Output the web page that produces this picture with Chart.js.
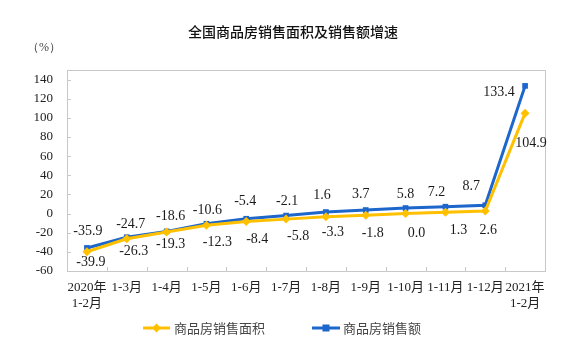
<!DOCTYPE html>
<html>
<head>
<meta charset="utf-8">
<script src="https://cdn.jsdelivr.net/npm/chart.js@4/dist/chart.umd.min.js"></script>
<style>
  html, body { margin: 0; padding: 0; background: #fff; }
  #wrap { width: 580px; height: 350px; }
</style>
</head>
<body>
<div id="wrap"><canvas id="grafico" width="580" height="350"></canvas></div>
<script>
// datos
const periodos = [["2020年", "1-2月"], "1-3月", "1-4月", "1-5月", "1-6月", "1-7月",
  "1-8月", "1-9月", "1-10月", "1-11月", "1-12月", ["2021年", "1-2月"]];
const areaVentas = [-39.9, -26.3, -19.3, -12.3, -8.4, -5.8, -3.3, -1.8, 0.0, 1.3, 2.6, 104.9];
const importeVentas = [-35.9, -24.7, -18.6, -10.6, -5.4, -2.1, 1.6, 3.7, 5.8, 7.2, 8.7, 133.4];
const ticksY = [-60, -40, -20, 0, 20, 40, 60, 80, 100, 120, 140];
const titulo = "全国商品房销售面积及销售额增速";
const nombreArea = "商品房销售面积";
const nombreImporte = "商品房销售额";

const AZUL = "#1c66cc";
const AMARILLO = "#ffc000";
const SERIF = "'Liberation Serif', 'Times New Roman', serif";
const CJK = "'Noto Sans CJK SC', sans-serif";

// desplazamiento de las etiquetas respecto a cada punto [dx, dy]
const despAzul = [[1, -17], [4, -13], [4, -15], [1, -13], [-1, -17], [1, -14],
  [-4, -17], [-5, -16], [0, -14], [-9, -14], [-14, -19], [-26, 6]];
const despAmar = [[4, 11], [7, 13], [4, 12], [11, 17], [11, 18], [12, 17],
  [7, 16], [7, 18], [11, 20], [13, 18], [3, 19], [6, 30]];

// titulo, marco, marcas internas, etiquetas y leyenda
const decoracion = {
  id: "decoracion",
  afterDraw(chart) {
    const ctx = chart.ctx;
    const a = chart.chartArea;
    const x = chart.scales.x;
    const y = chart.scales.y;
    ctx.save();

    ctx.fillStyle = "#111";
    ctx.font = "500 14px " + CJK;
    ctx.textAlign = "center";
    ctx.textBaseline = "middle";
    ctx.fillText(titulo, 293, 32);

    ctx.font = "12px " + SERIF;
    ctx.fillStyle = "#444";
    ctx.fillText("（%）", 44, 48);

    ctx.strokeStyle = "#c8c8c8";
    ctx.lineWidth = 1;
    ctx.strokeRect(Math.round(a.left) + 0.5, Math.round(a.top) + 0.5,
      Math.round(a.right - a.left), Math.round(a.bottom - a.top));

    ctx.beginPath();
    ticksY.forEach(v => {
      const py = Math.round(y.getPixelForValue(v)) + 0.5;
      ctx.moveTo(a.left, py);
      ctx.lineTo(a.left + 4, py);
    });
    for (let i = 1; i < periodos.length; i++) {
      const px = Math.round((x.getPixelForValue(i - 1) + x.getPixelForValue(i)) / 2) + 0.5;
      ctx.moveTo(px, a.bottom);
      ctx.lineTo(px, a.bottom - 4);
    }
    ctx.stroke();

    // etiquetas de valores
    ctx.font = "14px " + SERIF;
    ctx.fillStyle = "#1a1a1a";
    ctx.textAlign = "center";
    const ptsAzul = chart.getDatasetMeta(1).data;
    const ptsAmar = chart.getDatasetMeta(0).data;
    importeVentas.forEach((v, i) => {
      const p = ptsAzul[i];
      ctx.fillText(v.toFixed(1), p.x + despAzul[i][0], p.y + despAzul[i][1]);
    });
    areaVentas.forEach((v, i) => {
      const p = ptsAmar[i];
      ctx.fillText(v.toFixed(1), p.x + despAmar[i][0], p.y + despAmar[i][1]);
    });

    // leyenda
    const ly = 328;
    ctx.lineWidth = 3;
    ctx.strokeStyle = AMARILLO;
    ctx.beginPath(); ctx.moveTo(143, ly); ctx.lineTo(170, ly); ctx.stroke();
    ctx.fillStyle = AMARILLO;
    ctx.beginPath();
    ctx.moveTo(156.5, ly - 4.5); ctx.lineTo(161, ly); ctx.lineTo(156.5, ly + 4.5); ctx.lineTo(152, ly);
    ctx.closePath(); ctx.fill();
    ctx.strokeStyle = AZUL;
    ctx.beginPath(); ctx.moveTo(312, ly); ctx.lineTo(340, ly); ctx.stroke();
    ctx.fillStyle = AZUL;
    ctx.fillRect(322.5, ly - 3.5, 7, 7);

    ctx.fillStyle = "#444";
    ctx.font = "13px " + CJK;
    ctx.textAlign = "left";
    ctx.fillText(nombreArea, 174, ly);
    ctx.fillText(nombreImporte, 343, ly);
    ctx.restore();
  }
};

new Chart(document.getElementById("grafico").getContext("2d"), {
  type: "line",
  data: {
    labels: periodos,
    datasets: [
      {
        label: nombreArea,
        data: areaVentas,
        borderColor: AMARILLO,
        backgroundColor: AMARILLO,
        borderWidth: 3,
        pointStyle: "rectRot",
        pointRadius: 4.5,
        pointBorderWidth: 0,
        tension: 0,
      },
      {
        label: nombreImporte,
        data: importeVentas,
        borderColor: AZUL,
        backgroundColor: AZUL,
        borderWidth: 3,
        pointStyle: "rect",
        pointRadius: 4,
        pointBorderWidth: 0,
        tension: 0,
      },
    ],
  },
  options: {
    responsive: false,
    animation: false,
    layout: { padding: { top: 70, right: 35, left: 0, bottom: 0 } },
    plugins: {
      legend: { display: false },
      title: { display: false },
      tooltip: { enabled: false },
    },
    scales: {
      x: {
        offset: true,
        grid: { display: false },
        border: { display: false },
        ticks: {
          color: "#222",
          font: { family: SERIF + ", " + CJK, size: 13 },
          maxRotation: 0,
          autoSkip: false,
          padding: 1,
        },
        afterFit(scale) { scale.height = 79; },
      },
      y: {
        min: -60,
        max: 150,
        grid: { display: false },
        border: { display: false },
        afterBuildTicks(scale) { scale.ticks = ticksY.map(v => ({ value: v })); },
        ticks: {
          color: "#222",
          font: { family: SERIF, size: 13 },
          padding: 6,
        },
        afterFit(scale) { scale.width = 67; },
      },
    },
  },
  plugins: [decoracion],
});
</script>
</body>
</html>
